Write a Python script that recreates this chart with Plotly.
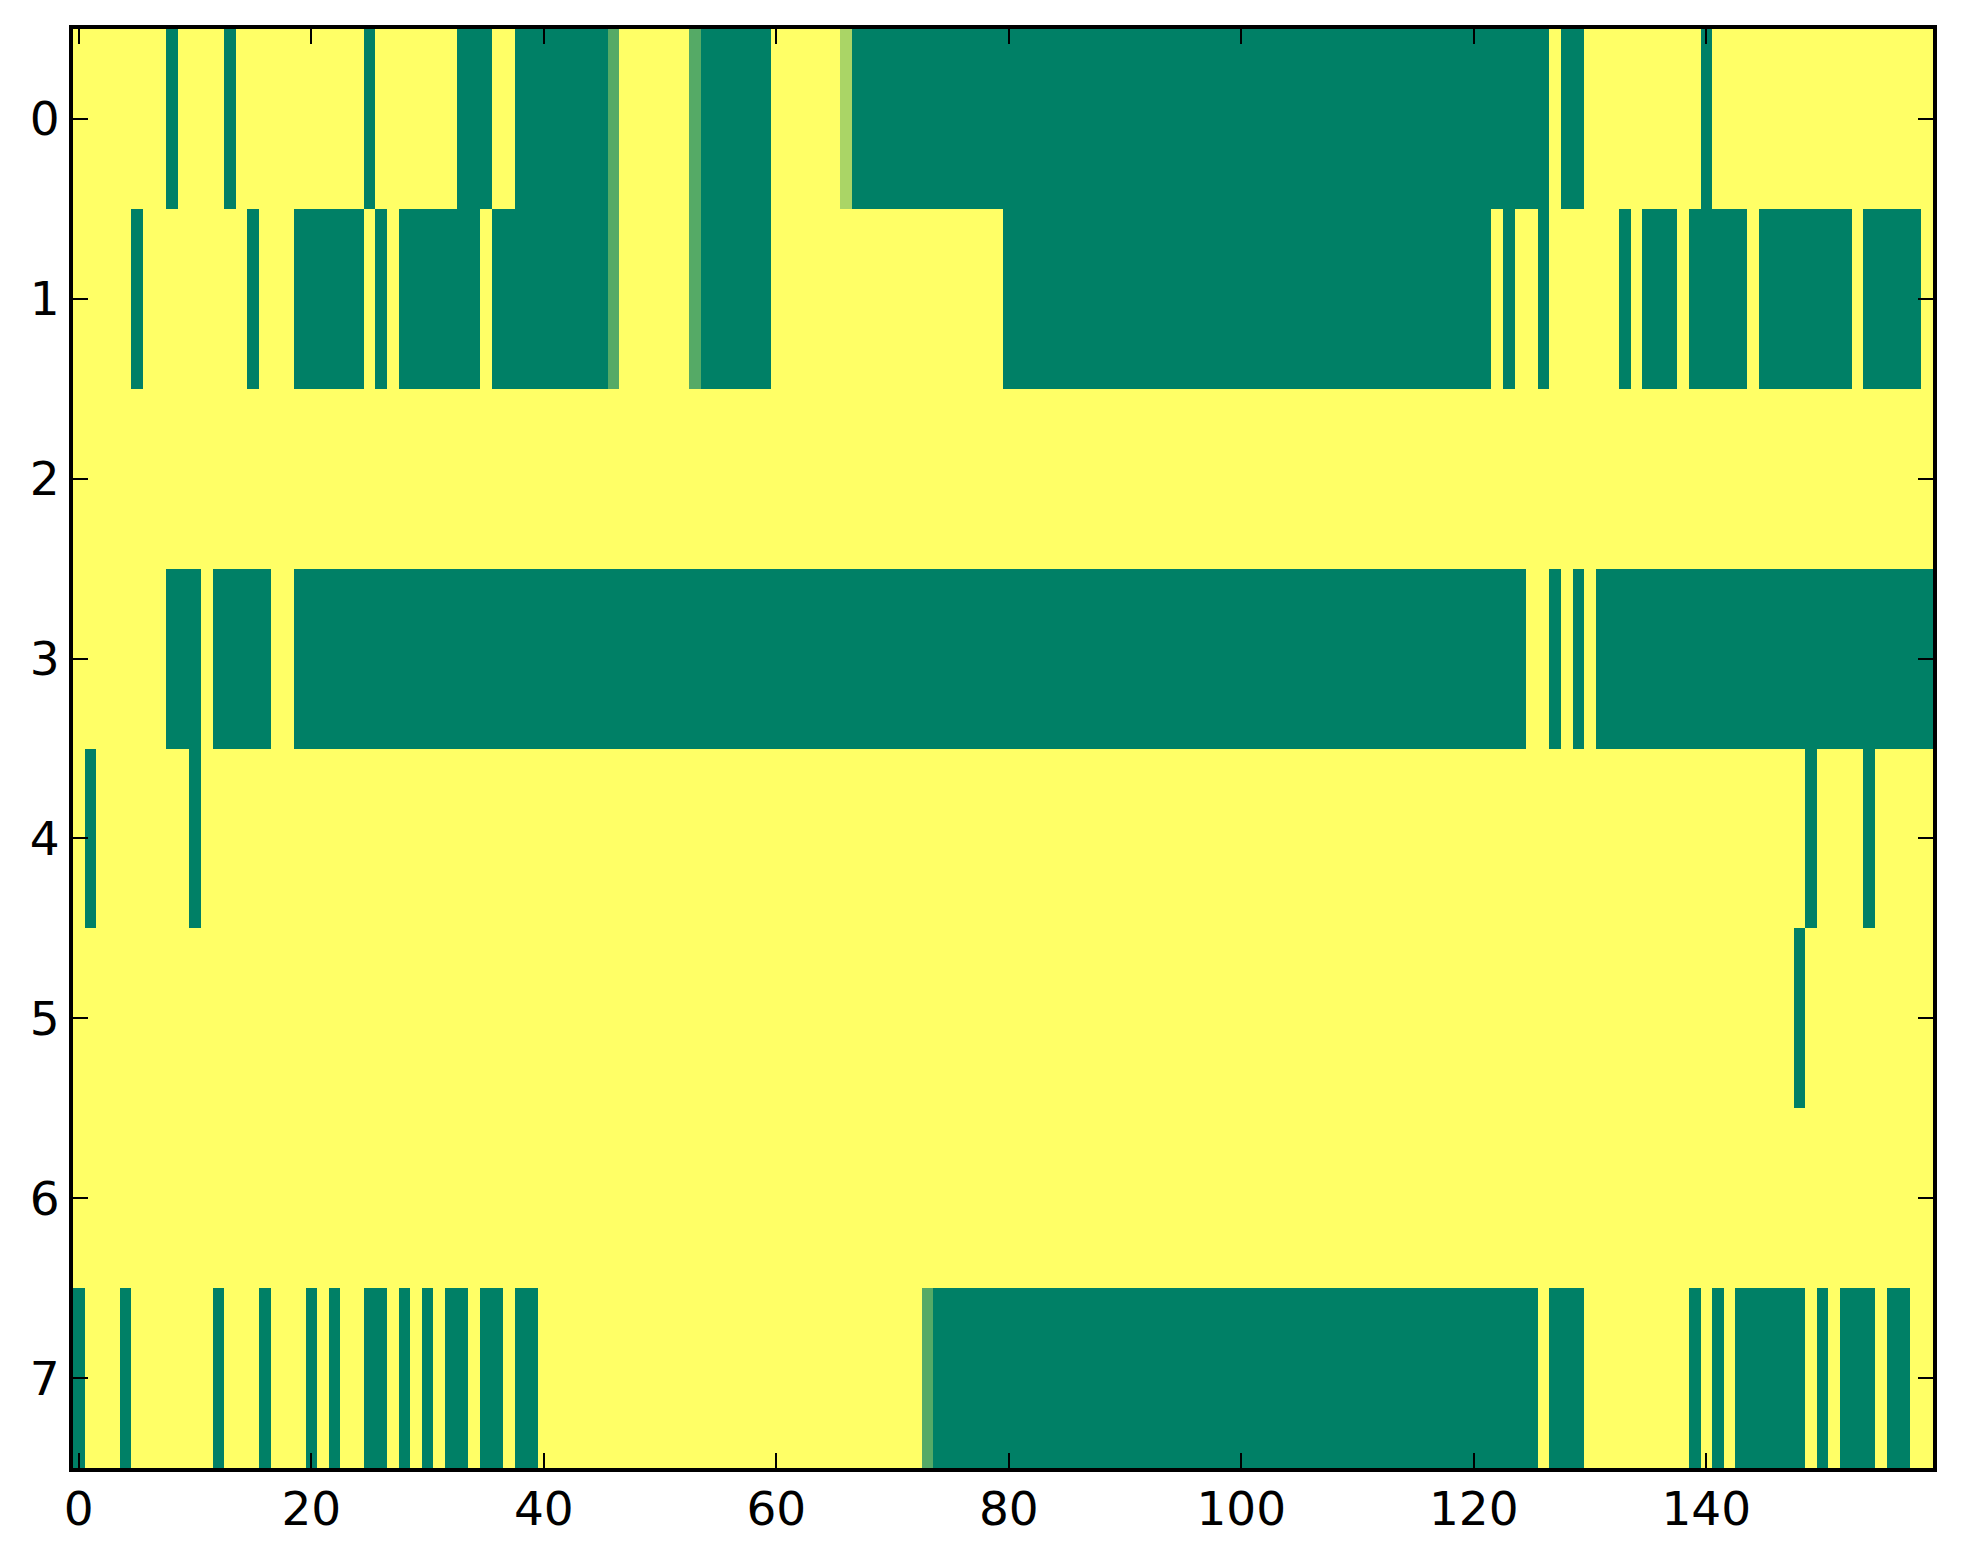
import plotly.graph_objects as go

# Each row as run-length pairs: (value, number of consecutive columns)
row_0 = [(1, 8), (0, 1), (1, 4), (0, 1), (1, 11), (0, 1), (1, 7), (0, 3), (1, 2), (0, 8),
         (0.333, 1), (1, 6), (0.333, 1), (0, 6), (1, 6), (0.667, 1), (0, 60), (1, 1), (0, 2),
         (1, 10), (0, 1), (1, 19)]
row_1 = [(1, 5), (0, 1), (1, 9), (0, 1), (1, 3), (0, 6), (1, 1), (0, 1), (1, 1), (0, 7),
         (1, 1), (0, 10), (0.333, 1), (1, 6), (0.333, 1), (0, 6), (1, 20), (0, 42), (1, 1),
         (0, 1), (1, 2), (0, 1), (1, 6), (0, 1), (1, 1), (0, 3), (1, 1), (0, 5), (1, 1),
         (0, 8), (1, 1), (0, 5), (1, 1)]
row_2 = [(1, 160)]
row_3 = [(1, 8), (0, 3), (1, 1), (0, 5), (1, 2), (0, 106), (1, 2), (0, 1), (1, 1), (0, 1),
         (1, 1), (0, 29)]
row_4 = [(1, 1), (0, 1), (1, 8), (0, 1), (1, 138), (0, 1), (1, 4), (0, 1), (1, 5)]
row_5 = [(1, 148), (0, 1), (1, 11)]
row_6 = [(1, 160)]
row_7 = [(0, 1), (1, 3), (0, 1), (1, 7), (0, 1), (1, 3), (0, 1), (1, 3), (0, 1), (1, 1),
         (0, 1), (1, 2), (0, 2), (1, 1), (0, 1), (1, 1), (0, 1), (1, 1), (0, 2), (1, 1),
         (0, 2), (1, 1), (0, 2), (1, 33), (0.333, 1), (0, 52), (1, 1), (0, 3), (1, 9),
         (0, 1), (1, 1), (0, 1), (1, 1), (0, 6), (1, 1), (0, 1), (1, 1), (0, 3), (1, 1),
         (0, 2), (1, 2)]

rows = [row_0, row_1, row_2, row_3, row_4, row_5, row_6, row_7]
x_ticks = [0, 20, 40, 60, 80, 100, 120, 140]
y_ticks = [0, 1, 2, 3, 4, 5, 6, 7]


def expand(runs):
    out = []
    for v, n in runs:
        out.extend([v] * n)
    return out


z = [expand(r) for r in rows]
n_cols = len(z[0])

fig = go.Figure(go.Heatmap(
    z=z,
    x=list(range(n_cols)),
    y=list(range(len(z))),
    colorscale=[[0, '#008066'], [1, '#ffff66']],
    zmin=0, zmax=1,
    showscale=False,
    hoverinfo='skip',
))

axis_common = dict(
    showline=True, linewidth=4, linecolor='black', mirror='allticks',
    ticks='inside', ticklen=15, tickwidth=2, tickcolor='black',
    showgrid=False, zeroline=False,
    tickfont=dict(family='DejaVu Sans', size=47, color='black'),
)

fig.update_xaxes(range=[-0.5, n_cols - 0.5], tickvals=x_ticks, ticktext=[str(t) for t in x_ticks],
                 ticklabelstandoff=-3, **axis_common)
fig.update_yaxes(range=[len(z) - 0.5, -0.5], tickvals=y_ticks, ticktext=[str(t) for t in y_ticks],
                 ticklabelstandoff=0, **axis_common)

# page body adds an 8px margin; compensate so the plot lands where the reference has it
fig.update_layout(
    width=1947, height=1548,
    margin=dict(l=65, r=22, t=21, b=88, pad=0, autoexpand=False),
    paper_bgcolor='white', plot_bgcolor='white',
    font=dict(family='DejaVu Sans', color='black'),
)

fig.write_html("out.html")
